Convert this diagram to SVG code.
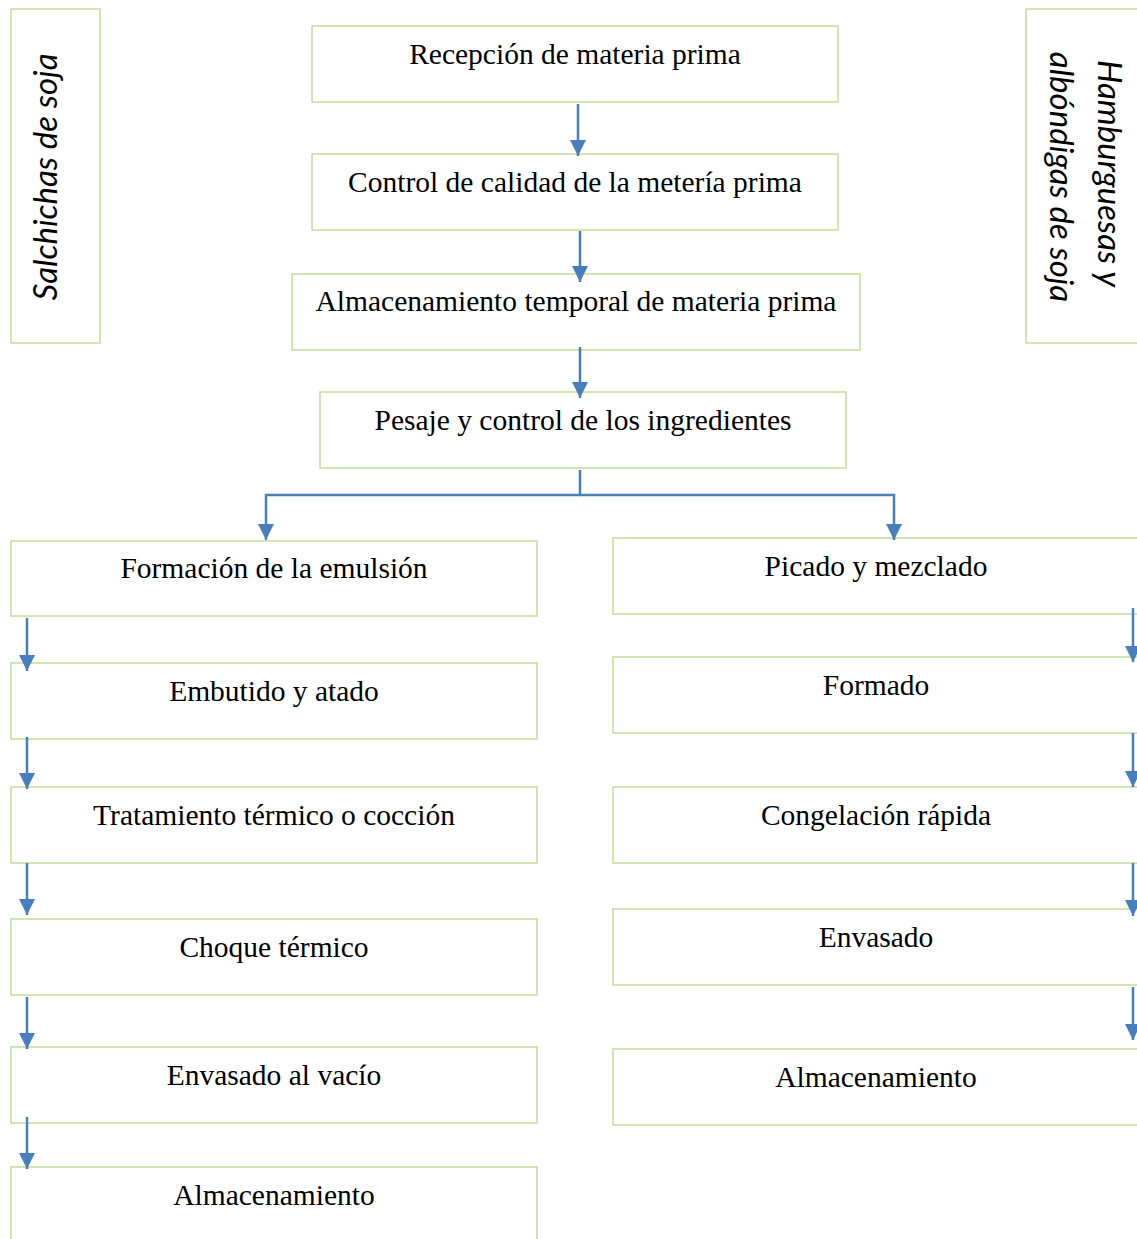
<svg xmlns="http://www.w3.org/2000/svg" width="1137" height="1239" viewBox="0 0 1137 1239">
  <style>
    .box { fill: #ffffff; stroke: #c2dc9c; stroke-width: 1.5; }
    .lbl { font-family: "Liberation Serif", "Times New Roman", serif; font-size: 29.5px; fill: #000; text-anchor: middle; }
    .side { font-family: Lato, "Open Sans", sans-serif; font-style: italic; font-size: 33px; fill: #000; text-anchor: middle; }
    .conn { fill: none; stroke: #4a7ebb; stroke-width: 2.5; }
  </style>
  <defs>
    <marker id="down" markerUnits="userSpaceOnUse" markerWidth="18" markerHeight="18" viewBox="0 0 18 18" refX="9" refY="16" orient="0">
      <path d="M1,0 L17,0 L9,16 Z" fill="#4a7ebb"/>
    </marker>
  </defs>

  <!-- side headings -->
  <g id="salchichas">
    <rect class="box" x="11" y="9" width="89" height="334"/>
    <text class="side" transform="translate(46 177) rotate(-90)" y="11">Salchichas de soja</text>
  </g>
  <g id="hamburguesas">
    <rect class="box" x="1026" y="9" width="120" height="334"/>
    <text class="side" transform="translate(1084 177) rotate(90)">
      <tspan x="0" y="-14">Hamburguesas y</tspan>
      <tspan x="0" y="34">albóndigas de soja</tspan>
    </text>
  </g>

  <!-- common steps -->
  <g id="recepcion">
    <rect class="box" x="312" y="26" width="526" height="76"/>
    <text class="lbl" x="575" y="64">Recepción de materia prima</text>
  </g>
  <g id="control">
    <rect class="box" x="312" y="154" width="526" height="76"/>
    <text class="lbl" x="575" y="192">Control de calidad de la metería prima</text>
  </g>
  <g id="almacenamiento-temporal">
    <rect class="box" x="292" y="274" width="568" height="76"/>
    <text class="lbl" x="576" y="311">Almacenamiento temporal de materia prima</text>
  </g>
  <g id="pesaje">
    <rect class="box" x="320" y="392" width="526" height="76"/>
    <text class="lbl" x="583" y="430">Pesaje y control de los ingredientes</text>
  </g>

  <!-- sausage line -->
  <g id="emulsion">
    <rect class="box" x="11" y="541" width="526" height="75"/>
    <text class="lbl" x="274" y="578">Formación de la emulsión</text>
  </g>
  <g id="embutido">
    <rect class="box" x="11" y="663" width="526" height="76"/>
    <text class="lbl" x="274" y="701">Embutido y atado</text>
  </g>
  <g id="tratamiento">
    <rect class="box" x="11" y="787" width="526" height="76"/>
    <text class="lbl" x="274" y="825">Tratamiento térmico o cocción</text>
  </g>
  <g id="choque">
    <rect class="box" x="11" y="919" width="526" height="76"/>
    <text class="lbl" x="274" y="957">Choque térmico</text>
  </g>
  <g id="envasado-vacio">
    <rect class="box" x="11" y="1047" width="526" height="76"/>
    <text class="lbl" x="274" y="1085">Envasado al vacío</text>
  </g>
  <g id="almacenamiento-l">
    <rect class="box" x="11" y="1167" width="526" height="80"/>
    <text class="lbl" x="274" y="1205">Almacenamiento</text>
  </g>

  <!-- burger / meatball line -->
  <g id="picado">
    <rect class="box" x="613" y="538" width="530" height="76"/>
    <text class="lbl" x="876" y="576">Picado y mezclado</text>
  </g>
  <g id="formado">
    <rect class="box" x="613" y="657" width="530" height="76"/>
    <text class="lbl" x="876" y="695">Formado</text>
  </g>
  <g id="congelacion">
    <rect class="box" x="613" y="787" width="530" height="76"/>
    <text class="lbl" x="876" y="825">Congelación rápida</text>
  </g>
  <g id="envasado">
    <rect class="box" x="613" y="909" width="530" height="76"/>
    <text class="lbl" x="876" y="947">Envasado</text>
  </g>
  <g id="almacenamiento-r">
    <rect class="box" x="613" y="1049" width="530" height="76"/>
    <text class="lbl" x="876" y="1087">Almacenamiento</text>
  </g>

  <!-- connectors -->
  <g id="connectors">
    <path class="conn" d="M578,104 V156" marker-end="url(#down)"/>
    <path class="conn" d="M580,231 V282" marker-end="url(#down)"/>
    <path class="conn" d="M580,347 V398" marker-end="url(#down)"/>
    <path class="conn" d="M580,470 V495 H266 V540" marker-end="url(#down)"/>
    <path class="conn" d="M580,495 H894 V540" marker-end="url(#down)"/>

    <path class="conn" d="M27,618 V671" marker-end="url(#down)"/>
    <path class="conn" d="M27,737 V789" marker-end="url(#down)"/>
    <path class="conn" d="M27,863 V915" marker-end="url(#down)"/>
    <path class="conn" d="M27,997 V1049" marker-end="url(#down)"/>
    <path class="conn" d="M27,1117 V1169" marker-end="url(#down)"/>

    <path class="conn" d="M1133,608 V662" marker-end="url(#down)"/>
    <path class="conn" d="M1133,733 V787" marker-end="url(#down)"/>
    <path class="conn" d="M1133,863 V916" marker-end="url(#down)"/>
    <path class="conn" d="M1133,987 V1040" marker-end="url(#down)"/>
  </g>
</svg>
